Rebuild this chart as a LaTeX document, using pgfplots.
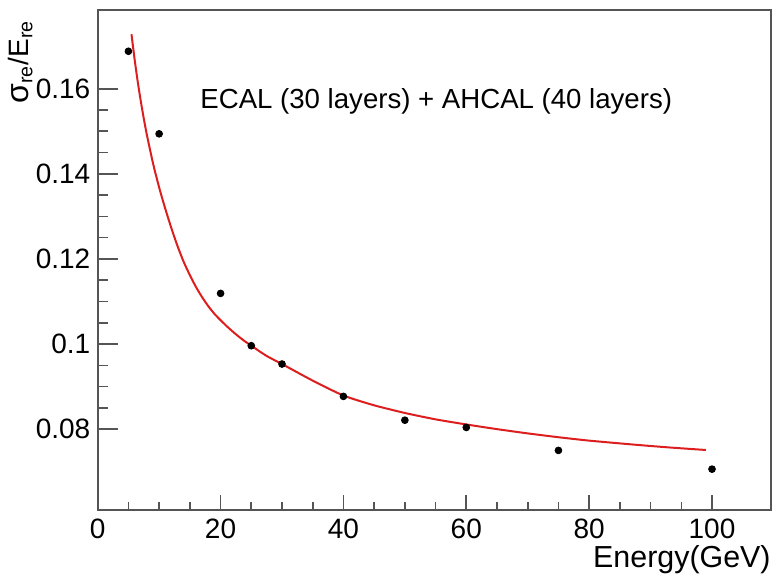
\documentclass[border=0pt]{standalone}
\usepackage{fontspec}
\setmainfont{Liberation Sans}
\usepackage{pgfplots}
\pgfplotsset{compat=1.18}
\definecolor{fitred}{RGB}{220,30,30}
\definecolor{framegray}{RGB}{85,85,85}
\begin{document}
\begin{tikzpicture}
\useasboundingbox (0,0) rectangle (386.5pt,291pt);
\begin{axis}[
  at={(48.85pt,36pt)}, anchor=south west,
  scale only axis, width=336.65pt, height=250pt,
  xmin=0, xmax=109.6, ymin=0.061, ymax=0.1785,
  xtick={0,20,40,60,80,100}, minor x tick num=3,
  ytick={0.08,0.10,0.12,0.14,0.16}, minor y tick num=3,
  tick pos=left, tick align=inside,
  scaled y ticks=false,
  /pgf/number format/assume math mode=true,
  yticklabel={\pgfmathprintnumber[fixed,precision=2]{\tick}},
  ticklabel style={font=\fontsize{14}{16}\selectfont, inner sep=0pt},
  xticklabel style={anchor=north, yshift=-4.5pt},
  yticklabel style={anchor=east, xshift=-3.5pt},
  tick style={framegray, line width=0.8pt},
  xtick style={/pgfplots/major tick length=7.5pt, /pgfplots/minor tick length=3.75pt},
  ytick style={/pgfplots/major tick length=10pt, /pgfplots/minor tick length=5pt},
  axis line style={framegray, line width=1pt},
  xlabel={Energy(GeV)},
  xlabel style={at={(axis description cs:1,0)}, anchor=north east, inner sep=0pt, yshift=-17.5pt, font=\fontsize{15.2}{17}\selectfont},
  ylabel={{\fontsize{16}{18}\selectfont σ}\textsubscript{re}/E\textsubscript{re}},
  ylabel style={at={(axis description cs:-0.1035,0.98)}, anchor=base east, inner sep=0pt, font=\fontsize{14}{16}\selectfont},
]
\addplot[only marks, mark=*, mark size=1.7pt, black] coordinates {
(5,0.1688) (10,0.1494) (20,0.1119) (25,0.0996) (30,0.0953)
(40,0.0877) (50,0.0821) (60,0.0804) (75,0.0750) (100,0.0706)
};
\addplot[fitred, line width=1pt, smooth, tension=0.4] coordinates {
(5.5,0.1728) (6,0.1670) (6.5,0.1618) (7,0.1572) (7.5,0.1530) (8,0.1492)
(9,0.1425) (10,0.1368) (11,0.1318) (12,0.1272) (13,0.1230) (14,0.1193)
(15,0.1162) (16,0.1134) (17,0.1110) (18,0.1089) (19,0.1071) (20,0.1056)
(21,0.1042) (22,0.1029) (23,0.1017) (24,0.1006) (25,0.0996) (27.5,0.0972)
(30,0.0953) (35,0.0914) (40,0.0879) (45,0.0856) (50,0.0838) (55,0.0823)
(60,0.0811) (65,0.0800) (70,0.0790) (75,0.0781) (80,0.0773) (87,0.0764)
(93,0.0757) (99,0.0751)
};
\node[anchor=base west, inner sep=0pt, font=\fontsize{13.8}{16}\selectfont] at (axis cs:16.66,0.15535) {ECAL (30 layers) + AHCAL (40 layers)};
\end{axis}
\end{tikzpicture}
\end{document}
